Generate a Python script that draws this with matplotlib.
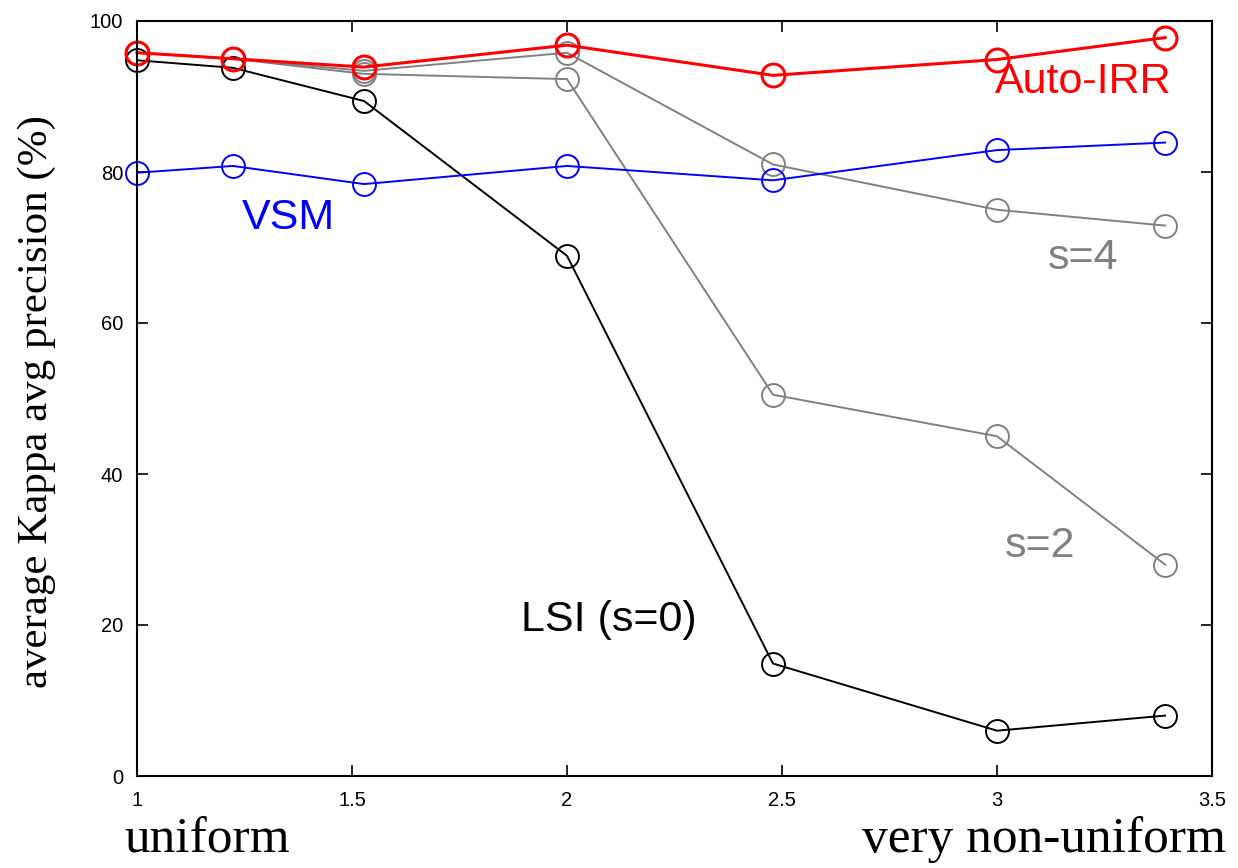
import matplotlib
matplotlib.use("Agg")
import matplotlib.pyplot as plt

x = [1.0, 1.223, 1.528, 2.0, 2.479, 3.0, 3.391]
auto_irr = [95.8, 95.0, 93.9, 96.8, 92.8, 94.9, 97.8]
vsm = [79.9, 80.8, 78.4, 80.8, 78.9, 82.9, 83.9]
lsi = [94.8, 93.8, 89.4, 68.9, 14.9, 6.0, 8.0]
s4 = [95.8, 95.0, 93.4, 95.8, 81.0, 75.0, 72.9]
s2 = [95.8, 95.0, 93.0, 92.3, 50.5, 45.0, 28.0]

xticks = [1, 1.5, 2, 2.5, 3, 3.5]
xticklabels = ["1", "1.5", "2", "2.5", "3", "3.5"]
yticks = [0, 20, 40, 60, 80, 100]
yticklabels = ["0", "20", "40", "60", "80", "100"]

fig = plt.figure(figsize=(12.38, 8.68), dpi=100)
ax = fig.add_axes([137/1238, 1-776/868, (1212-137)/1238, (776-21)/868])

ms = 16.5
ax.plot(x, s2, color="#808080", lw=1.4, marker="o", ms=ms, mfc="none", mew=1.4, clip_on=False)
ax.plot(x, s4, color="#808080", lw=1.4, marker="o", ms=ms, mfc="none", mew=1.4, clip_on=False)
ax.plot(x, lsi, color="black", lw=1.4, marker="o", ms=ms, mfc="none", mew=1.4, clip_on=False)
ax.plot(x, vsm, color="#0000ff", lw=1.4, marker="o", ms=ms, mfc="none", mew=1.4, clip_on=False)
ax.plot(x, auto_irr, color="#ff0000", lw=2.2, marker="o", ms=ms, mfc="none", mew=2.2, clip_on=False)

ax.set_xlim(1, 3.5)
ax.set_ylim(0, 100)
ax.set_xticks(xticks)
ax.set_xticklabels(xticklabels)
ax.set_yticks(yticks)
ax.set_yticklabels(yticklabels)
ax.tick_params(direction="in", top=True, right=True, length=8, width=1.2,
               labelsize=14.5, pad=10)
ax.tick_params(axis="x", pad=11)
for lab in ax.get_xticklabels() + ax.get_yticklabels():
    lab.set_fontfamily("Liberation Sans")
for sp in ax.spines.values():
    sp.set_linewidth(1.5)

tf = dict(family="Liberation Sans", fontsize=31)
labels = [
    (1083, 82, "Auto-IRR", "#ff0000"),
    (288, 218, "VSM", "#0000ff"),
    (1083, 258, "s=4", "#808080"),
    (1040, 546, "s=2", "#808080"),
    (609, 620, "LSI (s=0)", "black"),
]
for px, py, s, c in labels:
    fig.text(px/1238, 1-py/868, s, color=c, ha="center", va="center", **tf)

fig.text(37/1238, 1-402/868, "average Kappa avg precision (%)", rotation=90,
         ha="center", va="center", family="Liberation Serif", fontsize=31)
fig.text(124/1238, 1-840/868, "uniform", ha="left", va="center",
         family="Liberation Serif", fontsize=37)
fig.text(1226/1238, 1-840/868, "very non-uniform", ha="right", va="center",
         family="Liberation Serif", fontsize=37)

fig.savefig("out.png", dpi=100)
